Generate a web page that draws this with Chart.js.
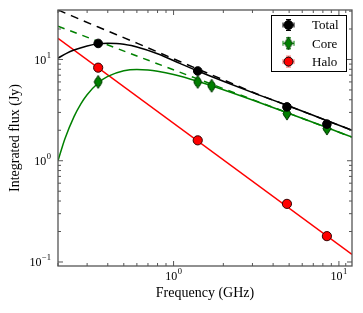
<!DOCTYPE html>
<html>
<head>
<meta charset="utf-8">
<script src="https://cdn.jsdelivr.net/npm/chart.js@4.4.0/dist/chart.umd.min.js"></script>
<style>
  html, body { margin: 0; padding: 0; background: #fff; }
  #wrap { width: 363px; height: 313px; }
</style>
</head>
<body>
<div id="wrap"><canvas id="chart" width="363" height="313"></canvas></div>
<script>
// ─── Measured points ────────────────────────────────────────────────────────
const totalFreq = [0.35, 1.4, 4.85, 8.46];
const totalFlux = [14.4, 7.7, 3.4, 2.3];
const totalErr = [0.7, 0.35, 0.16, 0.11];

const coreFreq = [0.35, 1.4, 1.7, 4.85, 8.46];
const coreFlux = [6.0, 6.0, 5.5, 2.92, 2.08];
const coreErr = [0.45, 0.45, 0.4, 0.2, 0.15];

const haloFreq = [0.35, 1.4, 4.85, 8.46];
const haloFlux = [8.3, 1.59, 0.375, 0.18];
const haloErr = [0.4, 0.08, 0.02, 0.01];

const freqErrFrac = [0.04, 0.04, 0.04, 0.04, 0.04];

// ─── Fitted curves ──────────────────────────────────────────────────────────
const totalFitFreq = [0.2, 0.225, 0.25, 0.3, 0.35, 0.4, 0.45, 0.5, 0.6, 0.8, 1.1, 1.4, 2, 3.3, 4.8, 8.4, 12];
const totalFitFlux = [10.3, 11.5, 12.4, 13.6, 14.3, 14.5, 14.4, 14.1, 13.3, 11.4, 9.1, 7.7, 6.1, 4.45, 3.55, 2.5, 2.0];

const totalPlFreq = [0.2, 0.35, 0.6, 1.1, 2, 3.3, 4.8, 8.4, 12];
const totalPlFlux = [30.8, 20.9, 14.5, 9.5, 6.3, 4.47, 3.55, 2.5, 2.0];

const coreFitFreq = [0.2, 0.22, 0.25, 0.275, 0.3, 0.35, 0.4, 0.5, 0.6, 0.7, 0.8, 1, 1.4, 2, 3, 5, 8, 12];
const coreFitFlux = [1.0, 1.64, 2.73, 3.65, 4.49, 5.86, 6.8, 7.74, 7.98, 7.89, 7.67, 7.12, 6.1, 5.03, 3.98, 2.93, 2.2, 1.71];

const corePlFreq = [0.2, 12];
const corePlFlux = [21.3, 1.71];

const haloFitFreq = [0.2, 12];
const haloFitFlux = [16.2, 0.119];

// ─── Axes ───────────────────────────────────────────────────────────────────
const xMajorTicks = [1, 10];
const xMinorTicks = [0.2, 0.3, 0.4, 0.5, 0.6, 0.7, 0.8, 0.9, 2, 3, 4, 5, 6, 7, 8, 9, 11];
const yMajorTicks = [0.1, 1, 10];
const yMinorTicks = [0.2, 0.3, 0.4, 0.5, 0.6, 0.7, 0.8, 0.9, 2, 3, 4, 5, 6, 7, 8, 9, 20, 30];
const xExponents = ["0", "1"];
const yExponents = ["\u22121", "0", "1"];

const SERIF = '"Liberation Serif", "DejaVu Serif", serif';
const GREEN = "#008000";

const pts = (xs, ys) => xs.map((x, i) => ({ x, y: ys[i] }));

function thinDiamond(w, h, fill, edge) {
  const c = document.createElement("canvas");
  c.width = w + 2;
  c.height = h + 2;
  const g = c.getContext("2d");
  g.beginPath();
  g.moveTo(c.width / 2, 1);
  g.lineTo(c.width - 1, c.height / 2);
  g.lineTo(c.width / 2, c.height - 1);
  g.lineTo(1, c.height / 2);
  g.closePath();
  g.fillStyle = fill;
  g.fill();
  g.strokeStyle = edge;
  g.lineWidth = 1;
  g.stroke();
  return c;
}

const diamond = thinDiamond(8, 13, GREEN, "#003300");

function curve(label, xs, ys, color, dash, smooth) {
  return {
    label,
    data: pts(xs, ys),
    borderColor: color,
    borderWidth: 1.5,
    borderDash: dash || [],
    pointRadius: 0,
    fill: false,
    cubicInterpolationMode: smooth ? "monotone" : "default",
    order: 5,
  };
}

function markers(label, xs, ys, errs, color, style, radius, edge) {
  return {
    label,
    data: pts(xs, ys),
    errY: errs,
    errColor: color,
    showLine: false,
    pointStyle: style,
    pointRadius: radius,
    pointBackgroundColor: color,
    pointBorderColor: edge,
    pointBorderWidth: 1,
    order: 0,
  };
}

// ─── Drawing helpers ────────────────────────────────────────────────────────
function seg(ctx, x1, y1, x2, y2) {
  ctx.beginPath();
  ctx.moveTo(x1, y1);
  ctx.lineTo(x2, y2);
  ctx.stroke();
}

function powLabel(ctx, exp, px, py, align) {
  ctx.font = "12px " + SERIF;
  const wb = ctx.measureText("10").width;
  ctx.font = "8.5px " + SERIF;
  const we = ctx.measureText(exp).width;
  const w = wb + we + 0.5;
  const x0 = align === "right" ? px - w : px - w / 2;
  ctx.textBaseline = "middle";
  ctx.textAlign = "left";
  ctx.font = "12px " + SERIF;
  ctx.fillText("10", x0, py);
  ctx.font = "8.5px " + SERIF;
  ctx.fillText(exp, x0 + wb + 0.5, py - 5);
}

function errBar(ctx, cx, cy, dx, dy, cap) {
  seg(ctx, cx - dx, cy, cx + dx, cy);
  seg(ctx, cx - dx, cy - cap, cx - dx, cy + cap);
  seg(ctx, cx + dx, cy - cap, cx + dx, cy + cap);
  seg(ctx, cx, cy - dy, cx, cy + dy);
  seg(ctx, cx - cap, cy - dy, cx + cap, cy - dy);
  seg(ctx, cx - cap, cy + dy, cx + cap, cy + dy);
}

const errorBars = {
  id: "errorBars",
  beforeDatasetDraw(chart, args) {
    const ds = chart.data.datasets[args.index];
    if (!ds.errY) return;
    const { ctx, scales: { x, y } } = chart;
    ctx.save();
    ctx.strokeStyle = ds.errColor;
    ctx.lineWidth = 1;
    ds.data.forEach((p, i) => {
      const cx = x.getPixelForValue(p.x);
      const cy = y.getPixelForValue(p.y);
      const y1 = y.getPixelForValue(p.y + ds.errY[i]);
      const y2 = y.getPixelForValue(p.y - ds.errY[i]);
      const x1 = x.getPixelForValue(p.x * (1 + freqErrFrac[i]));
      const x2 = x.getPixelForValue(p.x * (1 - freqErrFrac[i]));
      seg(ctx, x2, cy, x1, cy);
      seg(ctx, cx, y1, cx, y2);
      seg(ctx, x2, cy - 2.5, x2, cy + 2.5);
      seg(ctx, x1, cy - 2.5, x1, cy + 2.5);
      seg(ctx, cx - 2.5, y1, cx + 2.5, y1);
      seg(ctx, cx - 2.5, y2, cx + 2.5, y2);
    });
    ctx.restore();
  },
};

const frame = {
  id: "frame",
  afterDraw(chart) {
    const { ctx, chartArea: a, scales: { x, y } } = chart;
    ctx.save();

    // spines
    ctx.strokeStyle = "#555";
    ctx.lineWidth = 1.3;
    ctx.strokeRect(a.left, a.top, a.right - a.left, a.bottom - a.top);

    // inward ticks on all four sides
    ctx.lineWidth = 1;
    const xt = (list, len) =>
      list.forEach((v) => {
        const px = x.getPixelForValue(v);
        seg(ctx, px, a.bottom, px, a.bottom - len);
        seg(ctx, px, a.top, px, a.top + len);
      });
    const yt = (list, len) =>
      list.forEach((v) => {
        const py = y.getPixelForValue(v);
        if (py < a.top || py > a.bottom) return;
        seg(ctx, a.left, py, a.left + len, py);
        seg(ctx, a.right, py, a.right - len, py);
      });
    xt(xMajorTicks, 5);
    xt(xMinorTicks, 3);
    yt(yMajorTicks, 5);
    yt(yMinorTicks, 3);

    // tick labels
    ctx.fillStyle = "#000";
    xMajorTicks.forEach((v, i) =>
      powLabel(ctx, xExponents[i], x.getPixelForValue(v), a.bottom + 11, "center"),
    );
    yMajorTicks.forEach((v, i) =>
      powLabel(ctx, yExponents[i], a.left - 7, y.getPixelForValue(v) + 1, "right"),
    );

    // axis titles
    ctx.font = "14px " + SERIF;
    ctx.textAlign = "center";
    ctx.textBaseline = "middle";
    ctx.fillText("Frequency (GHz)", (a.left + a.right) / 2, 293);
    ctx.save();
    ctx.translate(15, (a.top + a.bottom) / 2);
    ctx.rotate(-Math.PI / 2);
    ctx.fillText("Integrated flux (Jy)", 0, 0);
    ctx.restore();

    // legend
    const lx = 271, ly = 15, lw = 75, lh = 56;
    ctx.fillStyle = "#fff";
    ctx.fillRect(lx, ly, lw, lh);
    ctx.strokeStyle = "#000";
    ctx.lineWidth = 1;
    ctx.strokeRect(lx + 0.5, ly + 0.5, lw, lh);

    const rows = [
      { text: "Total", color: "#000", err: "#000", kind: "circle" },
      { text: "Core", color: GREEN, err: GREEN, kind: "diamond" },
      { text: "Halo", color: "#ff0000", err: "#ff6666", kind: "circle" },
    ];
    rows.forEach((r, i) => {
      const cy = 25 + i * 18.3;
      const cx = 288.5;
      ctx.strokeStyle = r.err;
      ctx.lineWidth = 1;
      errBar(ctx, cx, cy, 5.5, 5.5, 2.5);
      if (r.kind === "circle") {
        ctx.beginPath();
        ctx.arc(cx, cy, 4.5, 0, Math.PI * 2);
        ctx.fillStyle = r.color;
        ctx.fill();
        ctx.strokeStyle = "#000";
        ctx.stroke();
      } else {
        ctx.drawImage(diamond, cx - diamond.width / 2, cy - diamond.height / 2);
      }
      ctx.fillStyle = "#000";
      ctx.font = "13px " + SERIF;
      ctx.textAlign = "left";
      ctx.textBaseline = "middle";
      ctx.fillText(r.text, 312, cy + 1);
    });

    ctx.restore();
  },
};

// ─── Chart ──────────────────────────────────────────────────────────────────
new Chart(document.getElementById("chart").getContext("2d"), {
  type: "line",
  data: {
    datasets: [
      markers("Total", totalFreq, totalFlux, totalErr, "#000", "circle", 4.3, "#000"),
      markers("Core", coreFreq, coreFlux, coreErr, GREEN, diamond, 6, GREEN),
      markers("Halo", haloFreq, haloFlux, haloErr, "#ff0000", "circle", 4.6, "#330000"),
      curve("Total fit", totalFitFreq, totalFitFlux, "#000", null, true),
      curve("Core fit", coreFitFreq, coreFitFlux, GREEN, null, true),
      curve("Halo fit", haloFitFreq, haloFitFlux, "#ff0000", null, false),
      curve("Total power law", totalPlFreq, totalPlFlux, "#000", [8, 6], true),
      curve("Core power law", corePlFreq, corePlFlux, GREEN, [7, 6], false),
    ],
  },
  options: {
    responsive: false,
    animation: false,
    events: [],
    layout: { padding: { top: 10, right: 11, left: 0, bottom: 0 } },
    plugins: { legend: { display: false }, tooltip: { enabled: false } },
    scales: {
      x: {
        type: "logarithmic",
        min: 0.2,
        max: 12,
        grid: { display: false },
        border: { display: false },
        ticks: { display: false },
        afterFit: (s) => { s.height = 47; },
      },
      y: {
        type: "logarithmic",
        min: 0.0913,
        max: 30.8,
        grid: { display: false },
        border: { display: false },
        ticks: { display: false },
        afterFit: (s) => { s.width = 58; },
      },
    },
  },
  plugins: [errorBars, frame],
});
</script>
</body>
</html>
